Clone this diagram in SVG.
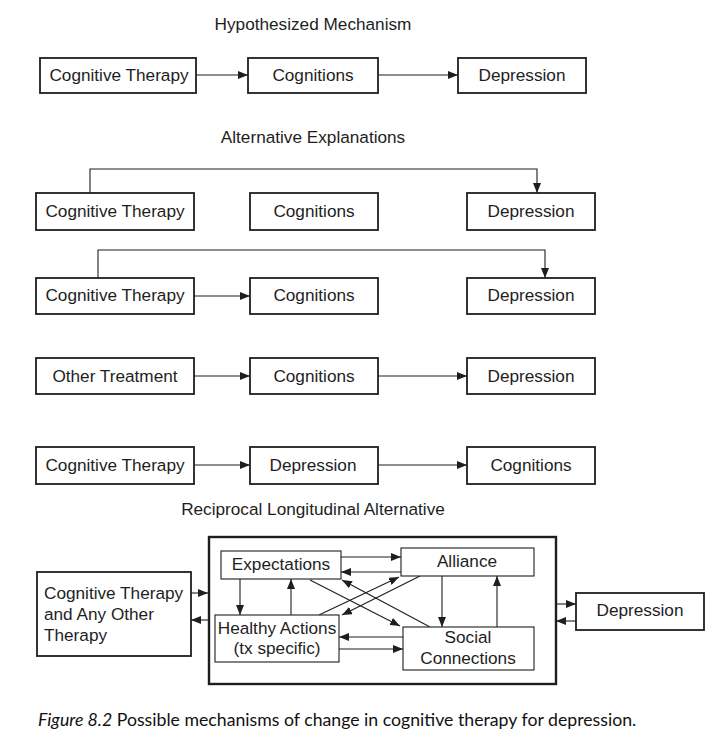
<svg xmlns="http://www.w3.org/2000/svg" width="727" height="756" viewBox="0 0 727 756">
<style>
.b{fill:#fff;stroke:#1e1e1e;stroke-width:1.8}
.s{fill:#fff;stroke:#1e1e1e;stroke-width:1.1}
.big{fill:none;stroke:#1e1e1e;stroke-width:2.4}
text{font-family:"Liberation Sans",Arial,sans-serif;font-size:17.2px;fill:#1e1e1e}
.c{text-anchor:middle}
.l{fill:none;stroke:#1e1e1e;stroke-width:1.1}
.cap{font-family:Lato,"Open Sans",sans-serif;font-size:17.7px;fill:#111}
</style>
<defs>
<marker id="a" viewBox="0 0 10 8" refX="10" refY="4" markerWidth="10" markerHeight="8" markerUnits="userSpaceOnUse" orient="auto">
<path d="M0,0 L10,4 L0,8 z" fill="#1e1e1e"/>
</marker>
</defs>

<text class="c" x="313" y="30">Hypothesized Mechanism</text>
<text class="c" x="313" y="143">Alternative Explanations</text>
<text class="c" x="313" y="515">Reciprocal Longitudinal Alternative</text>

<g id="connectors">
<line class="l" x1="196" y1="75" x2="248" y2="75" marker-end="url(#a)"/>
<line class="l" x1="378" y1="75" x2="458" y2="75" marker-end="url(#a)"/>
<polyline class="l" points="90,193 90,169 537,169 537,193" marker-end="url(#a)"/>
<polyline class="l" points="98,278 98,250 545,250 545,278" marker-end="url(#a)"/>
<line class="l" x1="194" y1="296" x2="250" y2="296" marker-end="url(#a)"/>
<line class="l" x1="194" y1="376" x2="250" y2="376" marker-end="url(#a)"/>
<line class="l" x1="378" y1="376" x2="467" y2="376" marker-end="url(#a)"/>
<line class="l" x1="194" y1="465" x2="250" y2="465" marker-end="url(#a)"/>
<line class="l" x1="378" y1="465" x2="467" y2="465" marker-end="url(#a)"/>
<line class="l" x1="191" y1="593" x2="208" y2="593" marker-end="url(#a)"/>
<line class="l" x1="208" y1="620" x2="191" y2="620" marker-end="url(#a)"/>
<line class="l" x1="556" y1="604" x2="576" y2="604" marker-end="url(#a)"/>
<line class="l" x1="576" y1="621" x2="556" y2="621" marker-end="url(#a)"/>
<line class="l" x1="341" y1="557" x2="401" y2="557" marker-end="url(#a)"/>
<line class="l" x1="401" y1="572" x2="341" y2="572" marker-end="url(#a)"/>
<line class="l" x1="240" y1="579" x2="240" y2="615" marker-end="url(#a)"/>
<line class="l" x1="291" y1="615" x2="291" y2="579" marker-end="url(#a)"/>
<line class="l" x1="442" y1="576" x2="442" y2="627" marker-end="url(#a)"/>
<line class="l" x1="497" y1="627" x2="497" y2="576" marker-end="url(#a)"/>
<line class="l" x1="403" y1="637" x2="339" y2="637" marker-end="url(#a)"/>
<line class="l" x1="339" y1="649" x2="403" y2="649" marker-end="url(#a)"/>
<line class="l" x1="310" y1="580" x2="400" y2="626" marker-end="url(#a)"/>
<line class="l" x1="430" y1="627" x2="342" y2="580" marker-end="url(#a)"/>
<line class="l" x1="319" y1="615" x2="399" y2="577" marker-end="url(#a)"/>
<line class="l" x1="420" y1="576" x2="342" y2="615" marker-end="url(#a)"/>
</g>

<g id="r1-ct"><rect class="b" x="40" y="58" width="156" height="35"/><text class="c" x="119" y="81">Cognitive Therapy</text></g>
<g id="r1-cog"><rect class="b" x="248" y="58" width="130" height="35"/><text class="c" x="313" y="81">Cognitions</text></g>
<g id="r1-dep"><rect class="b" x="458" y="58" width="128" height="35"/><text class="c" x="522" y="81">Depression</text></g>

<g id="r2-ct"><rect class="b" x="36" y="193" width="158" height="37"/><text class="c" x="115" y="217">Cognitive Therapy</text></g>
<g id="r2-cog"><rect class="b" x="250" y="193" width="128" height="37"/><text class="c" x="314" y="217">Cognitions</text></g>
<g id="r2-dep"><rect class="b" x="467" y="193" width="128" height="37"/><text class="c" x="531" y="217">Depression</text></g>

<g id="r3-ct"><rect class="b" x="36" y="278" width="158" height="36"/><text class="c" x="115" y="301">Cognitive Therapy</text></g>
<g id="r3-cog"><rect class="b" x="250" y="278" width="128" height="36"/><text class="c" x="314" y="301">Cognitions</text></g>
<g id="r3-dep"><rect class="b" x="467" y="278" width="128" height="36"/><text class="c" x="531" y="301">Depression</text></g>

<g id="r4-ot"><rect class="b" x="36" y="358" width="158" height="36"/><text class="c" x="115" y="382">Other Treatment</text></g>
<g id="r4-cog"><rect class="b" x="250" y="358" width="128" height="36"/><text class="c" x="314" y="382">Cognitions</text></g>
<g id="r4-dep"><rect class="b" x="467" y="358" width="128" height="36"/><text class="c" x="531" y="382">Depression</text></g>

<g id="r5-ct"><rect class="b" x="36" y="447" width="158" height="37"/><text class="c" x="115" y="471">Cognitive Therapy</text></g>
<g id="r5-dep"><rect class="b" x="250" y="447" width="128" height="37"/><text class="c" x="313" y="471">Depression</text></g>
<g id="r5-cog"><rect class="b" x="467" y="447" width="128" height="37"/><text class="c" x="531" y="471">Cognitions</text></g>

<g id="container"><rect class="big" x="209" y="537" width="347" height="147"/></g>
<g id="ct-any"><rect class="b" x="37" y="572" width="154" height="84"/>
<text x="44" y="599">Cognitive Therapy</text><text x="44" y="620">and Any Other</text><text x="44" y="641">Therapy</text></g>
<g id="expectations"><rect class="s" x="221" y="551" width="120" height="28"/><text class="c" x="281" y="570">Expectations</text></g>
<g id="alliance"><rect class="s" x="401" y="548" width="133" height="28"/><text class="c" x="467" y="567">Alliance</text></g>
<g id="healthy"><rect class="s" x="215" y="615" width="124" height="47"/><text class="c" x="277" y="634">Healthy Actions</text><text class="c" x="277" y="654">(tx specific)</text></g>
<g id="social"><rect class="s" x="403" y="627" width="131" height="43"/><text class="c" x="468" y="643">Social</text><text class="c" x="468" y="664">Connections</text></g>
<g id="dep-final"><rect class="b" x="576" y="593" width="128" height="37"/><text class="c" x="640" y="616">Depression</text></g>

<text class="cap" x="38" y="726"><tspan font-style="italic">Figure 8.2</tspan>  Possible mechanisms of change in cognitive therapy for depression.</text>
</svg>
